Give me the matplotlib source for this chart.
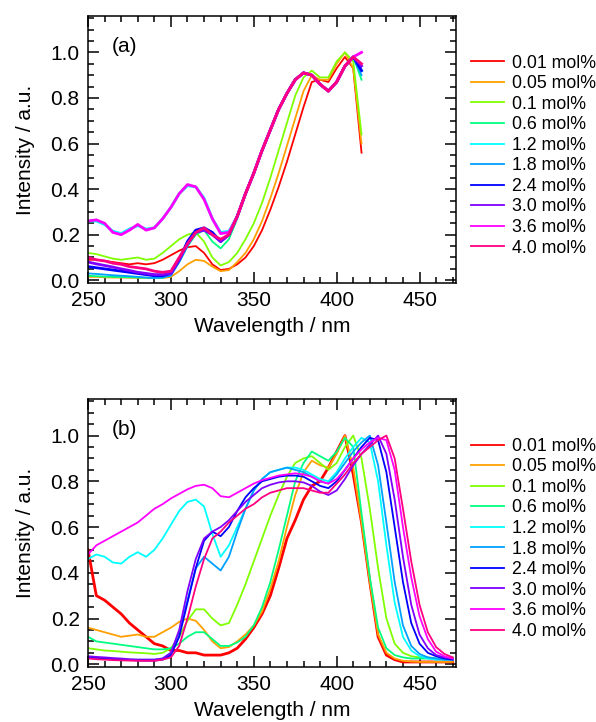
import matplotlib
matplotlib.use('Agg')
import matplotlib.pyplot as plt
from matplotlib.ticker import MultipleLocator

plt.rcParams['font.family'] = ['Liberation Sans', 'DejaVu Sans']

labels = ['0.01 mol%', '0.05 mol%', '0.1 mol%', '0.6 mol%', '1.2 mol%',
          '1.8 mol%', '2.4 mol%', '3.0 mol%', '3.6 mol%', '4.0 mol%']
colors = ['#ff0000', '#ffa000', '#80ff00', '#00ff80', '#00ffff',
          '#00a0ff', '#0000ff', '#8000ff', '#ff00ff', '#ff0080']

# panel (a): 250 ... 415 nm, step 5
wl_a = list(range(250, 420, 5))
a_001 = [0.09, 0.09, 0.085, 0.08, 0.075, 0.07, 0.075, 0.07, 0.075, 0.09, 0.11, 0.13,
         0.145, 0.15, 0.12, 0.07, 0.045, 0.05, 0.07, 0.1, 0.15, 0.22, 0.31, 0.41,
         0.52, 0.64, 0.76, 0.87, 0.88, 0.87, 0.93, 0.98, 0.93, 0.56]
a_005 = [0.015, 0.015, 0.013, 0.012, 0.012, 0.011, 0.011, 0.01, 0.01, 0.01, 0.015, 0.04,
         0.07, 0.09, 0.085, 0.06, 0.04, 0.045, 0.08, 0.12, 0.18, 0.26, 0.36, 0.47,
         0.59, 0.71, 0.83, 0.9, 0.88, 0.88, 0.95, 1.0, 0.93, 0.6]
a_01 = [0.12, 0.115, 0.105, 0.095, 0.09, 0.095, 0.1, 0.09, 0.095, 0.12, 0.15, 0.18,
        0.2, 0.21, 0.17, 0.1, 0.065, 0.08, 0.12, 0.18, 0.25, 0.34, 0.45, 0.57,
        0.69, 0.81, 0.89, 0.92, 0.89, 0.89, 0.96, 1.0, 0.96, 0.64]
a_06 = [0.02, 0.018, 0.016, 0.015, 0.014, 0.013, 0.012, 0.011, 0.01, 0.01, 0.03, 0.08,
        0.15, 0.2, 0.22, 0.17, 0.14, 0.18, 0.27, 0.38, 0.47, 0.57, 0.66, 0.75,
        0.82, 0.88, 0.91, 0.9, 0.86, 0.83, 0.87, 0.94, 0.98, 0.88]
a_12 = [0.26, 0.26, 0.245, 0.215, 0.205, 0.225, 0.24, 0.225, 0.23, 0.27, 0.32, 0.38,
        0.415, 0.41, 0.36, 0.27, 0.21, 0.215, 0.28, 0.38, 0.47, 0.57, 0.66, 0.75,
        0.82, 0.88, 0.91, 0.9, 0.86, 0.83, 0.87, 0.94, 0.98, 0.92]
a_18 = [0.03, 0.028, 0.025, 0.022, 0.02, 0.018, 0.015, 0.012, 0.01, 0.012, 0.02, 0.08,
        0.15, 0.21, 0.22, 0.2, 0.17, 0.2, 0.28, 0.38, 0.47, 0.57, 0.66, 0.75,
        0.82, 0.88, 0.91, 0.9, 0.86, 0.83, 0.87, 0.94, 0.98, 0.9]
a_24 = [0.06, 0.055, 0.05, 0.045, 0.04, 0.035, 0.03, 0.025, 0.02, 0.02, 0.03, 0.09,
        0.17, 0.22, 0.23, 0.21, 0.17, 0.2, 0.28, 0.38, 0.47, 0.57, 0.66, 0.75,
        0.82, 0.88, 0.91, 0.9, 0.86, 0.83, 0.87, 0.94, 0.98, 0.92]
a_30 = [0.08, 0.072, 0.065, 0.058, 0.05, 0.043, 0.035, 0.03, 0.025, 0.025, 0.03, 0.09,
        0.16, 0.21, 0.22, 0.2, 0.17, 0.2, 0.28, 0.38, 0.47, 0.57, 0.66, 0.75,
        0.82, 0.88, 0.91, 0.9, 0.86, 0.83, 0.87, 0.94, 0.98, 0.94]
a_36 = [0.26, 0.265, 0.25, 0.21, 0.2, 0.22, 0.245, 0.22, 0.23, 0.27, 0.32, 0.38,
        0.42, 0.41, 0.355, 0.27, 0.205, 0.21, 0.28, 0.38, 0.47, 0.57, 0.66, 0.75,
        0.82, 0.88, 0.91, 0.9, 0.86, 0.83, 0.87, 0.94, 0.98, 1.0]
a_40 = [0.1, 0.09, 0.085, 0.075, 0.07, 0.06, 0.055, 0.05, 0.04, 0.035, 0.04, 0.1,
        0.16, 0.21, 0.23, 0.2, 0.18, 0.2, 0.28, 0.38, 0.47, 0.57, 0.66, 0.75,
        0.82, 0.88, 0.91, 0.9, 0.86, 0.83, 0.87, 0.94, 0.98, 0.95]

# panel (b): 250 ... 470 nm, step 5
wl_b = list(range(250, 475, 5))
b_001 = [0.5, 0.3, 0.28, 0.25, 0.22, 0.18, 0.15, 0.12, 0.09, 0.08, 0.06, 0.06,
         0.05, 0.05, 0.04, 0.04, 0.04, 0.05, 0.07, 0.11, 0.16, 0.22, 0.3, 0.42,
         0.55, 0.63, 0.72, 0.78, 0.8, 0.86, 0.93, 1.0, 0.83, 0.62, 0.36, 0.12,
         0.04, 0.02, 0.01, 0.01, 0.01, 0.01, 0.01, 0.01, 0.01]
b_005 = [0.16, 0.15, 0.14, 0.13, 0.12, 0.125, 0.13, 0.12, 0.12, 0.14, 0.16, 0.185,
         0.2, 0.19, 0.15, 0.1, 0.07, 0.075, 0.1, 0.13, 0.17, 0.23, 0.33, 0.45,
         0.6, 0.74, 0.84, 0.89, 0.87, 0.86, 0.92, 1.0, 0.86, 0.62, 0.36, 0.13,
         0.05, 0.025, 0.015, 0.012, 0.01, 0.01, 0.01, 0.01, 0.01]
b_01 = [0.07, 0.065, 0.06, 0.058, 0.055, 0.052, 0.05, 0.048, 0.045, 0.05, 0.07, 0.12,
        0.19, 0.24, 0.24, 0.2, 0.17, 0.18, 0.26, 0.35, 0.45, 0.55, 0.65, 0.74,
        0.82, 0.88, 0.9, 0.91, 0.88, 0.85, 0.88, 0.95, 1.0, 0.9, 0.68, 0.42,
        0.2, 0.09, 0.05, 0.035, 0.03, 0.03, 0.025, 0.025, 0.025]
b_06 = [0.12, 0.1, 0.095, 0.09, 0.085, 0.08, 0.075, 0.07, 0.065, 0.065, 0.07, 0.09,
        0.12, 0.14, 0.14, 0.11, 0.08, 0.08, 0.095, 0.12, 0.17, 0.25, 0.36, 0.5,
        0.65, 0.8, 0.88, 0.93, 0.91, 0.89, 0.93, 0.99, 0.95, 0.66, 0.38, 0.16,
        0.07, 0.04, 0.03, 0.025, 0.025, 0.025, 0.025, 0.025, 0.03]
b_12 = [0.46, 0.48, 0.47, 0.445, 0.44, 0.47, 0.49, 0.47, 0.5, 0.55, 0.61, 0.67,
        0.71, 0.72, 0.69, 0.57, 0.47, 0.52, 0.6, 0.68, 0.76, 0.81, 0.84, 0.85,
        0.86, 0.86, 0.85, 0.83, 0.81, 0.8, 0.84, 0.9, 0.95, 0.99, 0.97, 0.8,
        0.52, 0.27, 0.12, 0.06, 0.035, 0.025, 0.02, 0.02, 0.02]
b_18 = [0.03, 0.028, 0.026, 0.024, 0.022, 0.02, 0.02, 0.02, 0.02, 0.025, 0.05, 0.14,
        0.28, 0.42, 0.47, 0.44, 0.41, 0.47, 0.58, 0.68, 0.76, 0.81, 0.84, 0.85,
        0.86, 0.85, 0.84, 0.82, 0.8, 0.79, 0.83, 0.88, 0.93, 0.97, 1.0, 0.87,
        0.62, 0.36, 0.17, 0.08, 0.045, 0.03, 0.025, 0.02, 0.02]
b_24 = [0.03, 0.028, 0.025, 0.022, 0.02, 0.018, 0.017, 0.016, 0.016, 0.02, 0.04, 0.12,
        0.27, 0.42, 0.54, 0.58, 0.56, 0.6, 0.67, 0.73, 0.77, 0.8, 0.81, 0.82,
        0.825, 0.825, 0.82, 0.8, 0.78, 0.77, 0.8, 0.85, 0.9, 0.95, 0.99, 0.98,
        0.84, 0.6, 0.36, 0.18, 0.09, 0.05, 0.035, 0.025, 0.02]
b_30 = [0.035, 0.032, 0.03, 0.027, 0.025, 0.022, 0.02, 0.02, 0.02, 0.025, 0.05, 0.15,
        0.32, 0.46, 0.55, 0.58, 0.6, 0.63, 0.67, 0.71, 0.74, 0.77, 0.785, 0.795,
        0.8, 0.8, 0.795, 0.78, 0.755, 0.74, 0.76, 0.81, 0.87, 0.92, 0.96, 1.0,
        0.92, 0.72, 0.47, 0.26, 0.13, 0.07, 0.04, 0.03, 0.025]
b_36 = [0.48, 0.52, 0.54, 0.56, 0.58, 0.6, 0.62, 0.65, 0.68, 0.7, 0.725, 0.745,
        0.765, 0.78, 0.785, 0.77, 0.735, 0.73, 0.75, 0.77, 0.79, 0.805, 0.815, 0.825,
        0.83, 0.835, 0.83, 0.82, 0.8, 0.79, 0.81, 0.85, 0.9, 0.94, 0.97, 0.99,
        0.98, 0.85, 0.6, 0.38, 0.21, 0.11, 0.055, 0.035, 0.025]
b_40 = [0.025, 0.022, 0.02, 0.018, 0.017, 0.016, 0.015, 0.015, 0.015, 0.02, 0.03, 0.08,
        0.2, 0.34, 0.46, 0.55, 0.58, 0.62, 0.65, 0.68, 0.7, 0.73, 0.75, 0.76,
        0.77, 0.77, 0.77, 0.76, 0.75, 0.75, 0.79, 0.83, 0.88, 0.92, 0.95, 0.98,
        1.0, 0.9, 0.68, 0.45, 0.26, 0.14, 0.075, 0.045, 0.03]

series_a = [a_001, a_005, a_01, a_06, a_12, a_18, a_24, a_30, a_36, a_40]
series_b = [b_001, b_005, b_01, b_06, b_12, b_18, b_24, b_30, b_36, b_40]
noisy_a = [False, False, False, False, True, False, True, True, True, True]
noisy_b = [True] + [False] * 9

fig = plt.figure(figsize=(5.96, 7.22), dpi=100)
ax_a = fig.add_axes([0.1477, 0.608, 0.6174, 0.370])
ax_b = fig.add_axes([0.1477, 0.0762, 0.6174, 0.3712])


def style(ax, tag, wl, series, noisy):
    for ys, lab, c, nz in zip(series, labels, colors, noisy):
        ax.plot(wl, ys, color=c, lw=2.0 if nz else 1.3, label=lab)
    ax.set_xlim(250, 472)
    ax.set_ylim(-0.012, 1.16)
    ax.xaxis.set_major_locator(MultipleLocator(50))
    ax.xaxis.set_minor_locator(MultipleLocator(10))
    ax.yaxis.set_major_locator(MultipleLocator(0.2))
    ax.yaxis.set_minor_locator(MultipleLocator(0.05))
    ax.yaxis.set_major_formatter(plt.FormatStrFormatter('%.1f'))
    ax.tick_params(which='both', direction='in', top=True, right=True,
                   labelsize=15, width=1.1, colors='black')
    ax.tick_params(which='major', length=8, pad=6)
    ax.tick_params(which='minor', length=4.5)
    for s in ax.spines.values():
        s.set_linewidth(1.1)
    ax.set_xlabel('Wavelength / nm', fontsize=15, labelpad=5)
    ax.set_ylabel('Intensity / a.u.', fontsize=15, labelpad=11)
    ax.text(0.1, 0.885, tag, transform=ax.transAxes, fontsize=15,
            ha='center', va='center')
    leg = ax.legend(loc='upper left', bbox_to_anchor=(0.998, 0.915), frameon=False,
                    fontsize=12.8, handlelength=1.85, handletextpad=0.45,
                    labelspacing=0.2, borderaxespad=0.5)
    for line in leg.get_lines():
        line.set_linewidth(1.3)


style(ax_a, '(a)', wl_a, series_a, noisy_a)
style(ax_b, '(b)', wl_b, series_b, noisy_b)

fig.savefig('out.png', dpi=100)
